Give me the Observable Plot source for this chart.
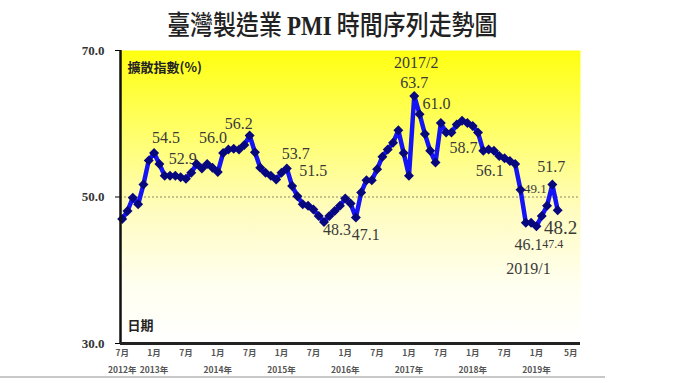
<!DOCTYPE html>
<html><head><meta charset="utf-8">
<script src="https://cdn.jsdelivr.net/npm/d3@7"></script>
<script src="https://cdn.jsdelivr.net/npm/@observablehq/plot@0.6"></script>
<style>
body{margin:0;background:#fff;width:680px;height:383px;overflow:hidden;position:relative;font-family:"Noto Sans CJK TC",sans-serif}
#title{position:absolute;left:0;top:0;width:664px;height:36px;text-align:center}
#title span{display:inline-block;font-size:27px;line-height:1;margin-top:10px;transform:scaleX(0.85);color:#222;white-space:nowrap;font-weight:500}
#title b{font-family:"Liberation Serif",serif;font-weight:bold}
#chart{position:absolute;left:0;top:36px}
#baseline{position:absolute;left:0;top:376px;width:605px;height:2px;background:#c8c8c8}
svg [aria-label^="y-axis"] text{font-family:"Liberation Serif",serif;font-weight:bold;font-size:13px;fill:#333}
</style></head><body>
<div id="title"><span>臺灣製造業 <b>PMI</b> 時間序列走勢圖</span></div>
<div id="chart"></div>
<div id="baseline"></div>
<script>
// Monthly PMI, 2012/07 .. 2019/05 (month index 0 = 2012/07)
const pmi2012 = [47.0, 48.1, 49.9, 49.0, 51.7, 55.0];
const pmi2013 = [56.0, 54.5, 52.9, 52.9, 52.9, 52.7, 52.5, 53.3, 54.5, 53.9, 54.5, 54.0];
const pmi2014 = [53.4, 56.0, 56.5, 56.6, 56.5, 57.1, 58.4, 56.1, 54.0, 53.3, 52.9, 52.4];
const pmi2015 = [53.3, 53.9, 51.5, 50.1, 49.0, 48.8, 48.3, 47.4, 46.6, 47.4, 48.1, 48.8];
const pmi2016 = [49.8, 49.1, 47.2, 50.6, 52.3, 52.3, 53.8, 55.5, 56.5, 57.4, 59.1, 56.0];
const pmi2017 = [52.9, 63.8, 61.3, 58.6, 56.3, 54.7, 60.1, 58.8, 58.8, 59.9, 60.4, 60.1];
const pmi2018 = [59.7, 58.8, 56.3, 56.5, 56.3, 55.6, 55.3, 54.9, 54.5, 51.0, 46.5, 46.5];
const pmi2019 = [46.0, 47.4, 48.8, 51.7, 48.2];

// x-axis tick labels (month index from 2012/07)
const tickIdx = [0, 6, 12, 18, 24, 30, 36, 42, 48, 54, 60, 66, 72, 78];
const tickLabels = ["7月","1月","7月","1月","7月","1月","7月","1月","7月","1月","7月","1月","7月","1月"];
const lastTickIdx = [82];
const lastTickLabel = ["5月"];
const yearIdx = [0, 6, 18, 30, 42, 54, 66, 78];
const yearLabels = ["2012年","2013年","2014年","2015年","2016年","2017年","2018年","2019年"];
const yTicks = [30, 50, 70];

// annotations: anchored month index + text
const labelIdx = [6, 8, 19, 24, 31, 32, 38, 44, 55, 55, 56, 62, 69, 75, 81, 82, 78, 79, 78];
const labelTexts = ["54.5","52.9","56.0","56.2","53.7","51.5","48.3","47.1","2017/2","63.7","61.0","58.7","56.1","49.1","51.7","48.2","46.1","47.4","2019/1"];

// ---- layout (not data) ----
const labelOffsets = [[12,-15],[18,-17],[-10,-15],[-11,-12],[9,-15],[21,-15],[13,8],[10,17],[2,-33],[0,-13],[17,-10],[12,15],[1,21],[15,-1],[-1,-18],[3,18],[-8,19],[11,28],[-8,43]];
const labelSizes = [16,16,16,16,16,16,16,16,16,16,16,16,16,13,16,19,16,12,16];

const values = [].concat(pmi2012, pmi2013, pmi2014, pmi2015, pmi2016, pmi2017, pmi2018, pmi2019);
const series = values.map((v, i) => ({i, v}));
const ticks = tickIdx.map((i, k) => ({i, label: tickLabels[k]}));
const lastTick = lastTickIdx.map((i, k) => ({i, label: lastTickLabel[k]}));
const years = yearIdx.map((i, k) => ({i, label: yearLabels[k]}));
const serif = "'Liberation Serif', 'Times New Roman', serif";
const sans = "'Noto Sans CJK TC', sans-serif";

const labelMarks = labelIdx.map((i, k) => Plot.text([{i, v: values[i], t: labelTexts[k]}], {
  x: "i", y: "v", text: "t", dx: labelOffsets[k][0], dy: labelOffsets[k][1],
  fontSize: labelSizes[k], fontFamily: serif, fill: "#3a3a3a"
}));

const xMin = -0.32, xMax = 86.3;

const plot = Plot.plot({
  width: 680, height: 347,
  marginTop: 14, marginBottom: 40, marginLeft: 120, marginRight: 100,
  x: {domain: [xMin, xMax], axis: null},
  y: {domain: [30, 70], ticks: yTicks, tickFormat: d => d.toFixed(1), tickSize: 5, tickPadding: 11, label: null},
  style: {background: "transparent", overflow: "visible"},
  marks: [
    Plot.frame({fill: "url(#bgGrad)", stroke: "none"}),
    Plot.ruleY([50], {stroke: "#8a8a6a", strokeDasharray: "2,2", strokeWidth: 1}),
    ...labelMarks,
    Plot.line(series, {x: "i", y: "v", stroke: "#1414f5", strokeWidth: 4.5, strokeLinejoin: "round"}),
    Plot.dot(series, {x: "i", y: "v", symbol: "diamond2", r: 4.5, fill: "#07077e", stroke: "none"}),
    Plot.ruleX([xMin], {stroke: "#111", strokeWidth: 2.5}),
    Plot.ruleY([30], {stroke: "#222", strokeWidth: 3}),
    Plot.text(["擴散指數(%)"], {frameAnchor: "top-left", dx: 7, dy: 12, textAnchor: "start", fontSize: 13, fontWeight: "bold", fontFamily: sans, fill: "#222"}),
    Plot.text(["日期"], {frameAnchor: "bottom-left", dx: 7, dy: -14, textAnchor: "start", fontSize: 13, fontWeight: "bold", fontFamily: sans, fill: "#222"}),
    Plot.text(ticks, {x: "i", frameAnchor: "bottom", dy: 12, text: "label", fontSize: 8.5, fontWeight: "bold", fontFamily: sans, fill: "#555"}),
    Plot.text(lastTick, {x: "i", frameAnchor: "bottom", dy: 12, dx: 13, text: "label", fontSize: 8.5, fontWeight: "bold", fontFamily: sans, fill: "#555"}),
    Plot.text(years, {x: "i", frameAnchor: "bottom", dy: 29, text: "label", fontSize: 8.5, fontWeight: "bold", fontFamily: sans, fill: "#555"})
  ]
});

const ns = "http://www.w3.org/2000/svg";
const defs = document.createElementNS(ns, "defs");
defs.innerHTML = '<linearGradient id="bgGrad" x1="0" y1="0" x2="0" y2="1">' +
  '<stop offset="0" stop-color="#ffff10"/>' +
  '<stop offset="0.3" stop-color="#ffff70"/>' +
  '<stop offset="0.55" stop-color="#fffcc0"/>' +
  '<stop offset="0.8" stop-color="#fffff0"/>' +
  '<stop offset="1" stop-color="#ffffff"/></linearGradient>';
plot.insertBefore(defs, plot.firstChild);
document.getElementById("chart").appendChild(plot);
</script>
</body></html>
